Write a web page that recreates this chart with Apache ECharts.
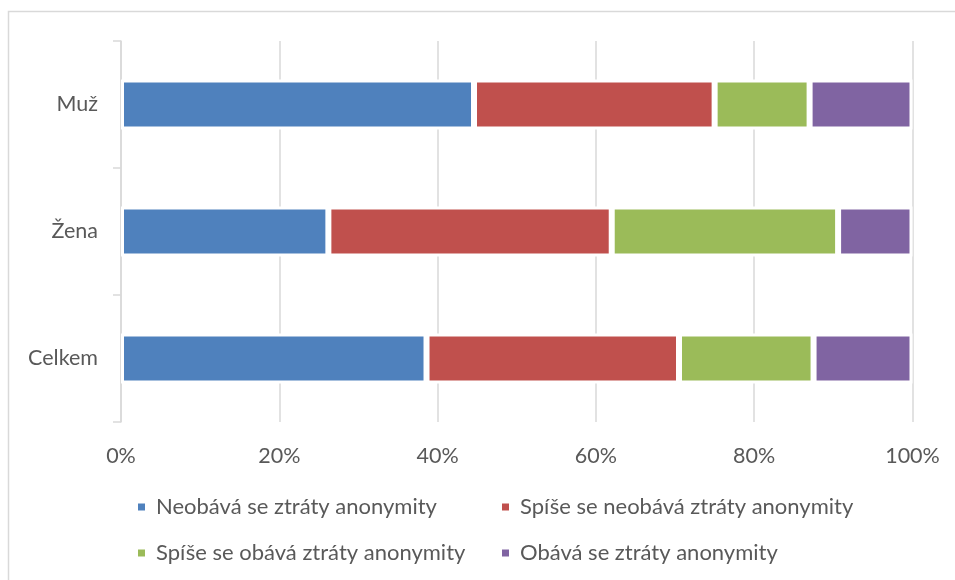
<!DOCTYPE html>
<html>
<head>
<meta charset="utf-8">
<script src="https://cdn.jsdelivr.net/npm/echarts@6/dist/echarts.min.js"></script>
<style>
  html, body { margin: 0; padding: 0; background: #ffffff; }
  #chart { width: 955px; height: 580px; }
</style>
</head>
<body>
<div id="chart"></div>
<script>
// Groups, listed bottom to top on the vertical category axis
const categories = ['Celkem', 'Žena', 'Muž'];

// Share of respondents (%) for each answer, in category order
const neobava = [38.6, 26.2, 44.6];
const spiseNeobava = [31.9, 35.8, 30.4];
const spiseObava = [17.0, 28.6, 12.0];
const obava = [12.5, 9.4, 13.0];

const seriesNames = [
  'Neobává se ztráty anonymity',
  'Spíše se neobává ztráty anonymity',
  'Spíše se obává ztráty anonymity',
  'Obává se ztráty anonymity'
];
const seriesValues = [neobava, spiseNeobava, spiseObava, obava];
const seriesColors = ['#4F81BD', '#C0504D', '#9BBB59', '#8064A2'];

const xTicks = { min: 0, max: 100, interval: 20 };

const FONT = 'Lato';
const TEXT = '#595959';
const LINE = '#d9d9d9';

const chart = echarts.init(document.getElementById('chart'), null, { renderer: 'canvas' });

const legendCommon = {
  orient: 'vertical',
  padding: 0,
  itemWidth: 9,
  itemHeight: 9,
  itemGap: 22,
  icon: 'rect',
  textStyle: {
    fontFamily: FONT,
    fontSize: 22,
    color: TEXT,
    lineHeight: 24,
    padding: [0, 0, 0, 5]
  },
  selectedMode: false
};

chart.setOption({
  animation: false,
  backgroundColor: '#ffffff',
  graphic: [{
    type: 'rect',
    shape: { x: 8.5, y: 11.5, width: 970, height: 600 },
    style: { fill: 'none', stroke: LINE, lineWidth: 1.5 },
    silent: true,
    z: 0
  }],
  grid: { left: 121, right: 42.5, top: 41, bottom: 158, containLabel: false },
  legend: [
    Object.assign({}, legendCommon, { left: 136, top: 495, data: [seriesNames[0], seriesNames[2]] }),
    Object.assign({}, legendCommon, { left: 500, top: 495, data: [seriesNames[1], seriesNames[3]] })
  ],
  xAxis: {
    type: 'value',
    min: xTicks.min,
    max: xTicks.max,
    interval: xTicks.interval,
    axisLine: { show: false },
    axisTick: { show: false },
    splitLine: { show: true, lineStyle: { color: LINE, width: 1.5 } },
    axisLabel: {
      formatter: '{value}%',
      fontFamily: FONT,
      fontSize: 21.5,
      color: TEXT,
      margin: 23
    }
  },
  yAxis: {
    type: 'category',
    data: categories,
    axisLine: { show: true, lineStyle: { color: LINE, width: 1.5 } },
    axisTick: { show: true, length: 8, lineStyle: { color: LINE, width: 1.5 } },
    axisLabel: {
      fontFamily: FONT,
      fontSize: 21.5,
      color: TEXT,
      margin: 23
    }
  },
  series: seriesNames.map((name, i) => ({
    name: name,
    type: 'bar',
    stack: 'total',
    barWidth: 50,
    data: seriesValues[i],
    itemStyle: {
      color: seriesColors[i],
      borderColor: '#ffffff',
      borderWidth: 3
    },
    z: 2
  }))
});
</script>
</body>
</html>
